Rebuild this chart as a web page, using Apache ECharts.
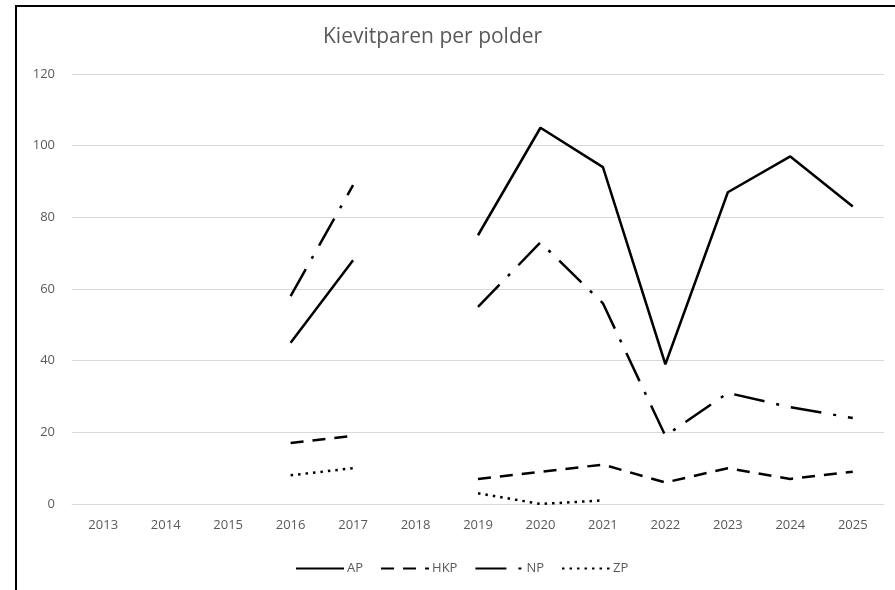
<!DOCTYPE html>
<html>
<head>
<meta charset="utf-8">
<script src="https://cdn.jsdelivr.net/npm/echarts@6/dist/echarts.min.js"></script>
<style>
  html, body { margin: 0; padding: 0; background: #fff; }
  #chart { position: absolute; left: 0; top: 0; width: 895px; height: 590px; }
  #frame { position: absolute; left: 15px; top: 5px; width: 890px; height: 600px;
           border-left: 2px solid #000; border-top: 2px solid #000; pointer-events: none; }
</style>
</head>
<body>
<div id="chart"></div>
<div id="frame"></div>
<script>
// jaren en aantallen kievitparen
const years = ['2013', '2014', '2015', '2016', '2017', '2018', '2019', '2020', '2021', '2022', '2023', '2024', '2025'];
const ap  = [null, null, null, 45, 68, null, 75, 105, 94, 39, 87, 97, 83];
const hkp = [null, null, null, 17, 19, null, 7, 9, 11, 6, 10, 7, 9];
const np  = [null, null, null, 58, 89, null, 55, 73, 56, 19, 31, 27, 24];
const zp  = [null, null, null, 8, 10, null, 3, 0, 1, null, null, null, null];
const yTicks = [0, 20, 40, 60, 80, 100, 120];

const grey = '#595959';
const font = '"Open Sans", "Noto Sans", sans-serif';

const mkLine = (name, data, type) => ({
  name: name,
  type: 'line',
  data: data,
  symbol: 'none',
  connectNulls: false,
  lineStyle: {color: '#000', width: 2.5, type: type, cap: 'butt'},
  itemStyle: {color: '#000'}
});

const myChart = echarts.init(document.getElementById('chart'));
myChart.setOption({
  animation: false,
  textStyle: {fontFamily: font},
  title: {
    text: 'Kievitparen per polder',
    left: 318,
    top: 22,
    textStyle: {color: grey, fontSize: 21, fontWeight: 'normal', fontFamily: font}
  },
  grid: {left: 72, right: 11, top: 74, bottom: 86, containLabel: false},
  legend: {
    top: 557,
    left: 290,
    itemWidth: 48,
    itemHeight: 14,
    itemGap: 17,
    itemStyle: {opacity: 0},
    textStyle: {color: grey, fontSize: 13, fontFamily: font, padding: [0, 0, 0, -2]},
    data: ['AP', 'HKP', 'NP', 'ZP']
  },
  xAxis: {
    type: 'category',
    data: years,
    boundaryGap: true,
    axisLine: {lineStyle: {color: '#d9d9d9', width: 1}},
    axisTick: {show: false},
    axisLabel: {color: grey, fontSize: 13, margin: 15}
  },
  yAxis: {
    type: 'value',
    min: yTicks[0],
    max: yTicks[yTicks.length - 1],
    interval: 20,
    axisLine: {show: false},
    axisTick: {show: false},
    axisLabel: {color: grey, fontSize: 13, margin: 17},
    splitLine: {lineStyle: {color: '#d9d9d9', width: 1}}
  },
  series: [
    mkLine('AP', ap, 'solid'),
    mkLine('HKP', hkp, [13, 9]),
    mkLine('NP', np, [31, 12, 3, 12]),
    mkLine('ZP', zp, [2.5, 5])
  ]
});
</script>
</body>
</html>
